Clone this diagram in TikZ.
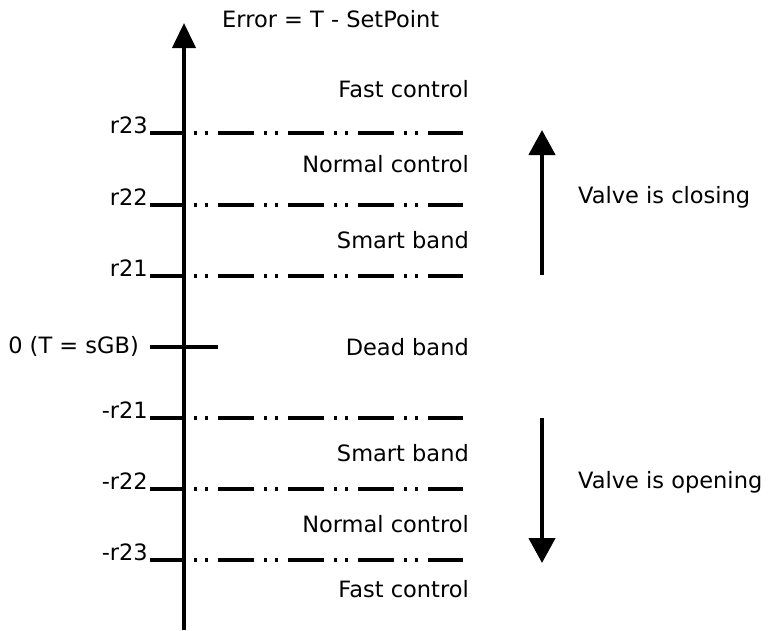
\documentclass[tikz,border=0pt]{standalone}
\usepackage{fontspec}
\setmainfont{DejaVu Sans}
\usetikzlibrary{arrows.meta, positioning}

\begin{document}
\begin{tikzpicture}[
  x=1pt, y=-1pt,
  font=\fontsize{22.5}{26}\selectfont,
  eje/.style={line width=4pt, -{Triangle[length=25pt, width=23pt]}},
  flecha/.style={line width=4.5pt, -{Triangle[length=25pt, width=26pt]}},
  marca/.style={line width=4pt},
  nivel/.style={line width=4pt, dash pattern=on 3pt off 8pt on 3pt off 10pt on 36pt off 10pt},
  etiqueta/.style={inner sep=0pt, anchor=base east},
  banda/.style={inner sep=0pt, anchor=base east},
  nota/.style={inner sep=0pt, anchor=base west}
]
\useasboundingbox (0,0) rectangle (768,630);

% Eje del error
\coordinate (pie) at (184,630);
\coordinate (cima) at (184,23);
\draw[eje] (pie) -- (cima);
\node[nota] (titulo) at (222,27) {Error = T - SetPoint};

% Umbrales a ambos lados del cero
\foreach \y/\nombre/\texto in {133/a/r23, 205/b/r22, 276/c/r21, 418/d/-r21, 489/e/-r22, 560/f/-r23} {
  \coordinate (m\nombre) at (150,\y);
  \coordinate (e\nombre) at (184,\y);
  \coordinate (i\nombre) at (194,\y);
  \coordinate (f\nombre) at (463,\y);
  \node[etiqueta] (t\nombre) at (148,\y) {\texto};
  \draw[marca] (m\nombre) -- (e\nombre);
  \draw[nivel] (i\nombre) -- (f\nombre);
}

% Cero
\coordinate (m0) at (150,347);
\coordinate (f0) at (218,347);
\draw[marca] (m0) -- (f0);
\node[inner sep=0pt, anchor=east] (cero) at (139,346) {0 (T = sGB)};

% Nombre de cada banda
\foreach \y/\texto [count=\i] in {97/Fast control, 172/Normal control, 248/Smart band, 355/Dead band, 461/Smart band, 532/Normal control, 597/Fast control}
  \node[banda] (b\i) at (469,\y) {\texto};

% Sentido de la valvula
\coordinate (ca) at (542,275);
\coordinate (cb) at (542,130);
\coordinate (aa) at (542,418);
\coordinate (ab) at (542,563);
\draw[flecha] (ca) -- (cb);
\draw[flecha] (aa) -- (ab);
\node[nota] (cierra) at (578,203) {Valve is closing};
\node[nota] (abre) at (578,488) {Valve is opening};

\end{tikzpicture}
\end{document}
